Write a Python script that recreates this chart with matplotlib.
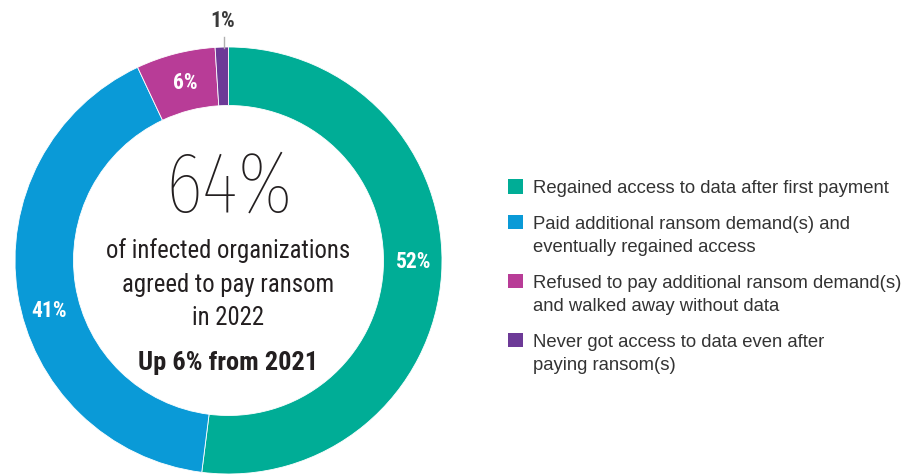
import matplotlib
matplotlib.use("Agg")
import matplotlib.pyplot as plt
from matplotlib.patches import Rectangle
from matplotlib import font_manager

# data
shares = [52, 41, 6, 1]
pct_labels = ["52%", "41%", "6%", "1%"]
categories = [
    "Regained access to data after first payment",
    "Paid additional ransom demand(s) and\neventually regained access",
    "Refused to pay additional ransom demand(s)\nand walked away without data",
    "Never got access to data even after\npaying ransom(s)",
]
colors = ["#00ad96", "#0a9ad7", "#b83c97", "#6d3a97"]
headline = "64%"
sub_lines = ["of infected organizations", "agreed to pay ransom", "in 2022"]
note = "Up 6% from 2021"

COND = "Roboto Condensed"
DARK = "#231f20"


def _w(v):
    return v if isinstance(v, int) else font_manager.weight_dict.get(v, 400)


# find a thin condensed face for the big number
THIN, THIN_W = COND, 300
for fam in ["Fira Sans Extra Condensed", "Barlow Condensed", "Saira ExtraCondensed",
            "Sofia Sans Extra Condensed", "Roboto Condensed"]:
    ws = [_w(f.weight) for f in font_manager.fontManager.ttflist
          if f.name == fam and f.style == "normal"]
    thin = [w for w in ws if w <= 250]
    if thin:
        THIN, THIN_W = fam, max(thin)
        break

W, H = 924, 476
fig = plt.figure(figsize=(W / 100, H / 100), dpi=100)
cx, cy, R = 228.5, 260.5, 213.5
ax = fig.add_axes([(cx - R) / W, (H - cy - R) / H, 2 * R / W, 2 * R / H])


def px(x, y):
    # pixel position (from top-left) -> data coords of the donut axes
    return (x - cx) / R, (cy - y) / R


ax.pie(shares, colors=colors, startangle=90, counterclock=False, radius=1.0,
       wedgeprops=dict(width=0.274, edgecolor="white", linewidth=0.6))
ax.set_xlim(-1, 1)
ax.set_ylim(-1, 1)
ax.set_aspect("equal")
ax.axis("off")

# percent labels on the ring
lab_px = [(413.5, 268.3), (48.7, 317.3), (185.5, 89.3)]
for (x, y), t in zip(lab_px, pct_labels[:3]):
    ax.text(*px(x, y), t, color="white", fontsize=15.5, fontweight="bold",
            family=COND, ha="center", va="baseline")
# 1% sits outside with a short leader
x0, y0 = px(224, 36.5)
x1, y1 = px(224, 48)
ax.plot([x0, x1], [y0, y1], color="#b0b0b0", lw=1, clip_on=False)
ax.text(*px(223, 27.3), pct_labels[3], color="#3a3a3a", fontsize=15.5,
        fontweight="bold", family=COND, ha="center", va="baseline")

# centre text
ax.text(*px(229, 211.7), headline, fontsize=62, fontweight=THIN_W, family=THIN,
        color=DARK, ha="center", va="baseline")
for y, t in zip([258.3, 291.7, 325], sub_lines):
    ax.text(*px(228, y), t, fontsize=17.8, family=COND, color=DARK,
            ha="center", va="baseline")
ax.text(*px(228, 370), note, fontsize=19, fontweight="bold", family=COND,
        color=DARK, ha="center", va="baseline")

# legend, drawn by hand so the swatch lines up with the first text line
base = 193.3
for lab, c in zip(categories, colors):
    fig.patches.append(Rectangle((508.3 / W, (H - base + 6.7 - 7.2) / H), 14.4 / W, 14.4 / H,
                                 transform=fig.transFigure, color=c, lw=0))
    lines = lab.split("\n")
    for i, ln in enumerate(lines):
        fig.text(532.7 / W, (H - base - i * 23.5) / H, ln, fontsize=13.3,
                 family="Liberation Sans", color="#333333", ha="left", va="baseline")
    base += 35.5 + 23.5 * (len(lines) - 1)

fig.savefig("out.png", dpi=100)
